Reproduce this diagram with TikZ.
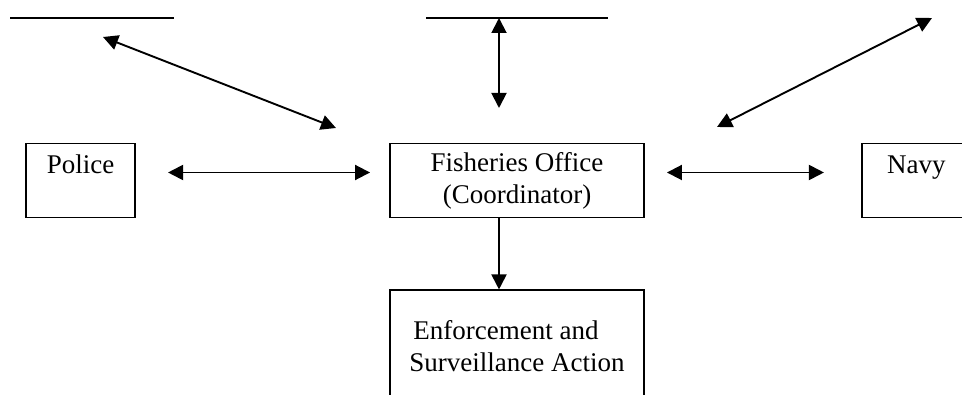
\documentclass[tikz,border=0pt]{standalone}
\usepackage{fontspec}
\setmainfont{Liberation Serif}
\usetikzlibrary{positioning,arrows.meta}

\tikzset{
  box/.style={draw, line width=1.9pt, minimum width=254pt, minimum height=74pt,
    align=center, font=\fontsize{27}{32}\selectfont},
  link/.style={line width=1.9pt,
    {Triangle[length=15pt,width=15pt]}-{Triangle[length=15pt,width=15pt]}},
  oneway/.style={line width=1.9pt, -{Triangle[length=15pt,width=15pt]}},
}

\begin{document}
\begin{tikzpicture}[x=1pt,y=1pt]
    \useasboundingbox (0,0) rectangle (962,394);

    % middle row
    \node[box] (fo) at (517,213.5) {Fisheries Office\\(Coordinator)};
    \node[box, minimum width=109pt, left=253pt of fo] (police) {Police\\~};
    \node[box, minimum width=109pt, right=216pt of fo] (navy) {Navy\\~};
    \node[box, minimum height=112pt, align=left, below=71pt of fo] (action)
        {\hspace*{4pt}Enforcement and\\Surveillance Action};

    % rules at the top
    \coordinate (ruleL1) at (10,376);  \coordinate (ruleL2) at (174,376);
    \coordinate (ruleM1) at (426,376); \coordinate (ruleM2) at (608,376);
    \draw[line width=1.9pt] (ruleL1) -- (ruleL2);
    \draw[line width=1.9pt] (ruleM1) -- (ruleM2);

    % free arrow ends
    \coordinate (upL) at (103,357);  \coordinate (downL) at (336,266);
    \coordinate (upM) at (499,376);  \coordinate (downM) at (499,286);
    \coordinate (upR) at (932,376);  \coordinate (downR) at (717,267);

    \draw[link] (upL) -- (downL);
    \draw[link] (upM) -- (downM);
    \draw[link] (upR) -- (downR);
    \draw[link] ([xshift=32pt,yshift=8pt]police.east) -- ([xshift=-19pt,yshift=8pt]fo.west);
    \draw[link] ([xshift=22pt,yshift=8pt]fo.east) -- ([xshift=-37pt,yshift=8pt]navy.west);
    \draw[oneway] ([xshift=-18pt]fo.south) -- ([xshift=-18pt]action.north);
\end{tikzpicture}
\end{document}
